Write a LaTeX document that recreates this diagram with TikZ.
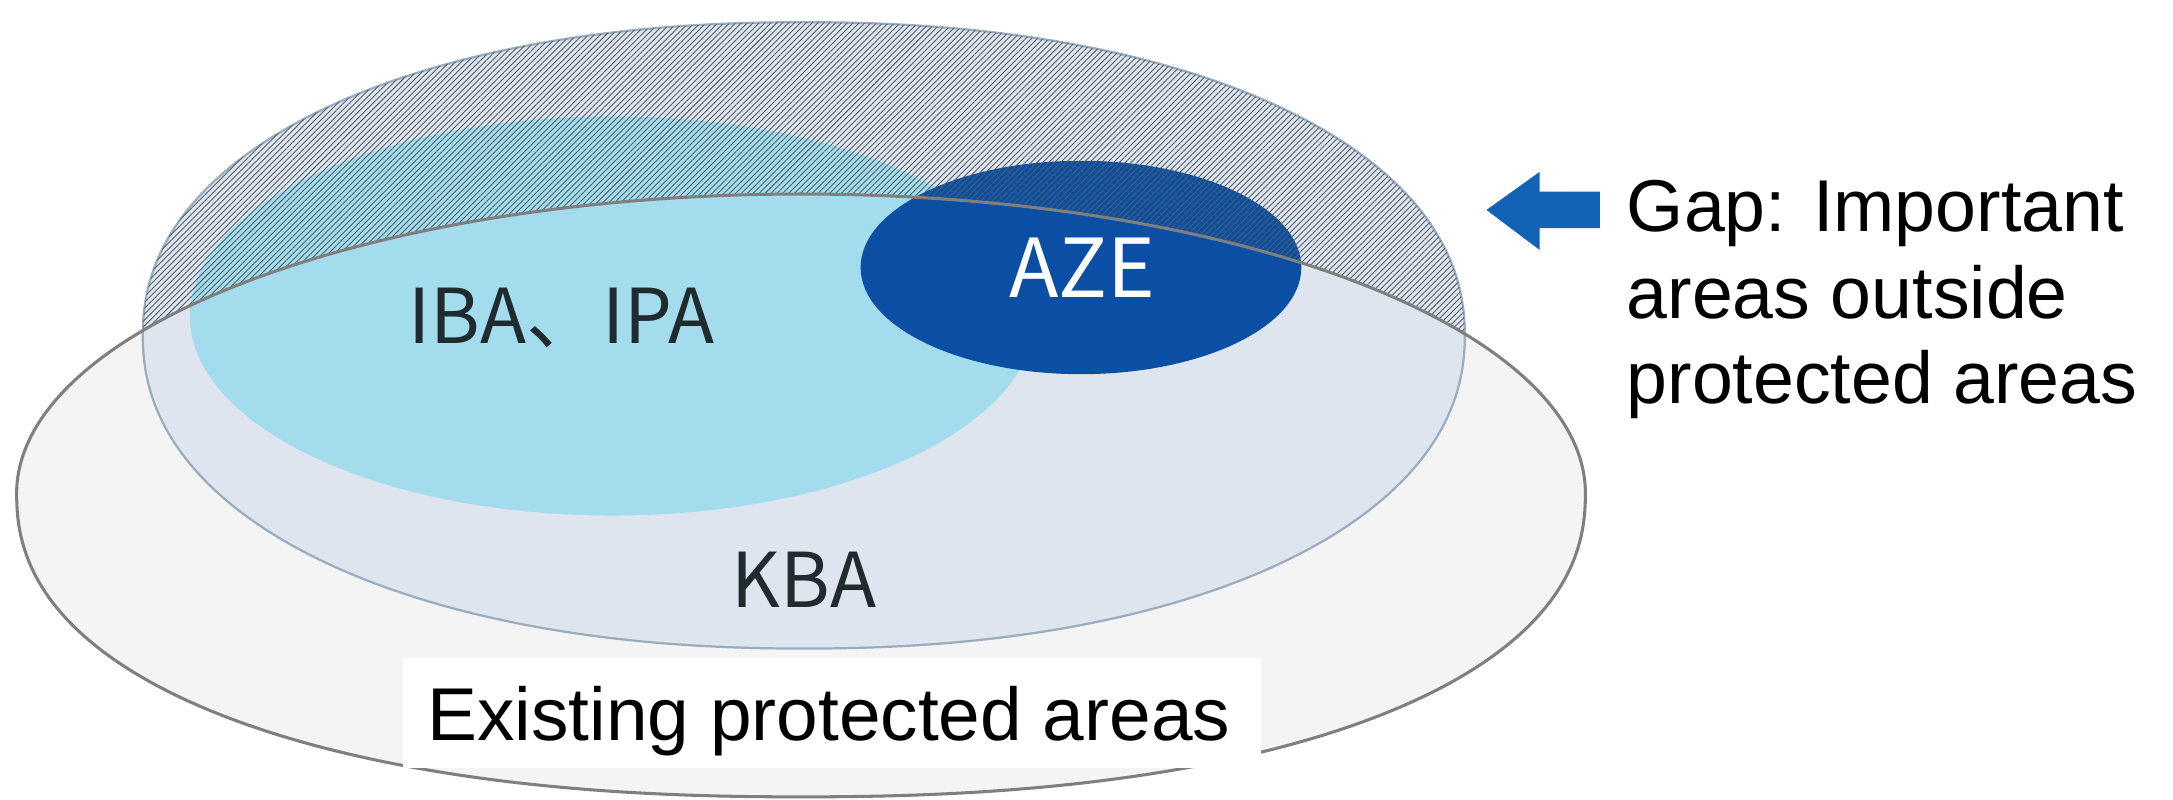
\documentclass[tikz,border=0pt]{standalone}
\usepackage{fontspec}
\setmainfont{Liberation Sans}
\newfontfamily\cjk{Noto Sans CJK SC}
\usetikzlibrary{patterns.meta}
\definecolor{pafill}{HTML}{F4F4F4}
\definecolor{paline}{HTML}{7F7F7F}
\definecolor{kbafill}{HTML}{DFE5EE}
\definecolor{kbaline}{HTML}{9AACBF}
\definecolor{ibafill}{HTML}{A3DCEC}
\definecolor{azefill}{HTML}{0B4FA5}
\definecolor{hatchc}{HTML}{4E5E66}
\definecolor{labelc}{HTML}{1F2B2F}
\definecolor{arrowc}{HTML}{1262B8}
\tikzset{
  biglabel/.style={font=\cjk\fontsize{27.3}{30}\selectfont, text=labelc, inner sep=0pt, anchor=base},
  sidetext/.style={font=\fontsize{26.5}{31}\selectfont, text=black, inner sep=0pt, anchor=base west},
}
% existing protected areas: elliptic top, slightly squarer bottom
\newcommand\papath{(1144,-356) -- plot[domain=1:179, samples=179] ({578+566*cos(\x)},{-356+216*sin(\x)})
  -- (12,-356) -- plot[domain=180.5:359.5, samples=180] ({578+566*cos(\x)*pow(abs(cos(\x)),-0.111)},{-356+219*sin(\x)*pow(abs(sin(\x)),-0.111)}) -- cycle}
% KBA: slightly squarer ellipse
\newcommand\kbapath{plot[domain=0.5:359.5, samples=360] ({580+477*cos(\x)*pow(abs(cos(\x)),-0.07)},{-242+226*sin(\x)*pow(abs(sin(\x)),-0.07)}) -- cycle}
\begin{document}
\begin{tikzpicture}[x=0.5pt,y=0.5pt]
\useasboundingbox (0,0) rectangle (1568,-577);
\fill[white] (0,0) rectangle (1568,-577);
% existing protected areas (fill)
\fill[pafill] \papath;
% KBA
\filldraw[fill=kbafill, draw=kbaline, line width=0.8pt] \kbapath;
% IBA / IPA
\fill[ibafill] (442,-228) ellipse [x radius=305, y radius=144];
% AZE
\fill[azefill] (780,-193) ellipse [x radius=159, y radius=77];
% hatching: KBA outside existing protected areas
\begin{scope}
  \clip \kbapath;
  \fill[pattern={Lines[angle=45,distance=1.5pt,line width=0.32pt]}, pattern color=hatchc, even odd rule]
    (0,0) rectangle (1568,-577) \papath;
\end{scope}
% existing protected areas outline
\draw[paline, line width=1.1pt, line join=round] \papath;
% labels
\node[biglabel] (iba) at (405,-247.6) {IBA、IPA};
\node[biglabel, font=\cjk\fontsize{29.3}{32}\selectfont, text=white] (aze) at (781,-215) {AZE};
\node[biglabel] (kba) at (580,-438) {KBA};
% existing protected areas label box
\node[fill=white, inner sep=0pt, minimum width=309.75pt, minimum height=39.5pt] (pabox) at (600.25,-514.5) {};
\node[font=\fontsize{27}{31}\selectfont, inner sep=0pt, anchor=base west] (patext) at (308,-534) {Existing protected areas};
% arrow
\fill[arrowc] (1072.6,-151.5) -- (1111,-124) -- (1111,-138.3) -- (1154.4,-138.3)
   -- (1154.4,-164.7) -- (1111,-164.7) -- (1111,-180.4) -- cycle;
% side text
\node[sidetext] (gap1) at (1173.5,-167.2) {Gap: Important};
\node[sidetext] (gap2) at (1173.5,-229.5) {areas outside};
\node[sidetext] (gap3) at (1173.5,-291) {protected areas};
\end{tikzpicture}
\end{document}
